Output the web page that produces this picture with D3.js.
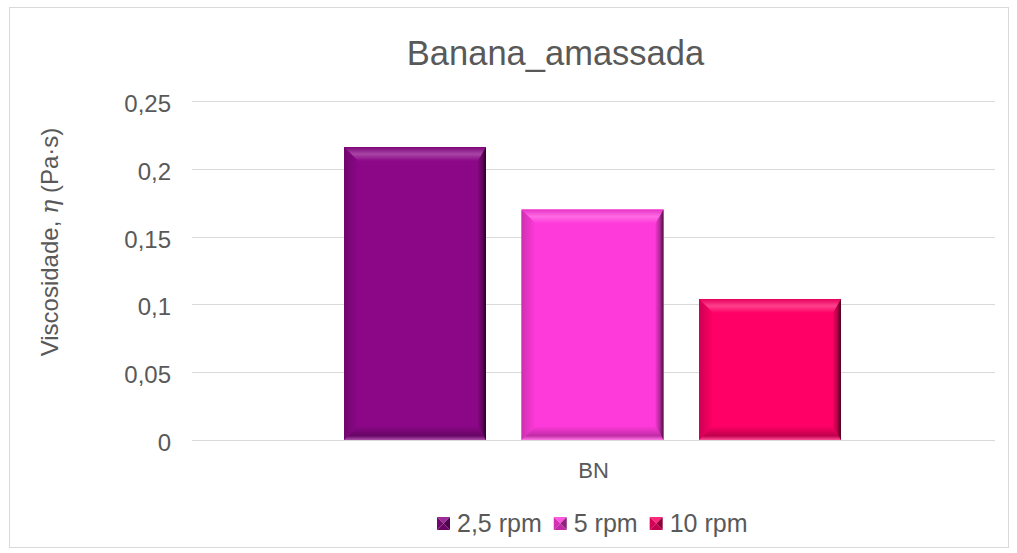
<!DOCTYPE html>
<html><head><meta charset="utf-8">
<script src="https://cdn.jsdelivr.net/npm/d3@7"></script>
<style>body{margin:0;background:#fff}svg{display:block}text{font-family:"Liberation Sans",Arial,sans-serif}</style>
</head><body><svg id="c" width="1017" height="553"></svg>
<script>
const categories = ["BN"];
const seriesNames = ["2,5 rpm", "5 rpm", "10 rpm"];
const seriesValues = [0.216, 0.170, 0.104];
const yTicks = [0, 0.05, 0.1, 0.15, 0.2, 0.25];
const yTickLabels = ["0", "0,05", "0,1", "0,15", "0,2", "0,25"];
const colors = ["#8B0787", "#FF3ADB", "#FF0066"];

(function () {
const svg = d3.select("#c");
svg.append("rect").attr("x", 9.5).attr("y", 7.5).attr("width", 999).attr("height", 540)
  .attr("fill", "#fff").attr("stroke", "#d9d9d9");

const pLeft = 192, pRight = 995, pTop = 101, pBottom = 440;
const y = d3.scaleLinear().domain([0, 0.25]).range([pBottom, pTop]);
const x0 = d3.scaleBand().domain(categories).range([pLeft, pRight]);
const x1 = d3.scaleBand().domain(seriesNames).range([x0("BN") + 152, x0("BN") + x0.bandwidth() - 154]).paddingInner(0.2);

svg.append("g").selectAll("line").data(yTicks).join("line")
  .attr("x1", pLeft).attr("x2", pRight).attr("y1", d => Math.round(y(d)) + 0.5).attr("y2", d => Math.round(y(d)) + 0.5)
  .attr("stroke", "#d9d9d9").attr("stroke-width", 1);

svg.append("g").selectAll("text").data(yTicks).join("text")
  .attr("x", 171).attr("y", d => y(d) + 11).attr("text-anchor", "end")
  .attr("font-size", 24).attr("fill", "#595959").text((d, i) => yTickLabels[i]);

svg.append("text").attr("x", x0("BN") + x0.bandwidth() / 2).attr("y", 478).attr("text-anchor", "middle")
  .attr("font-size", 22).attr("fill", "#595959").text(categories[0]);

svg.append("text").attr("x", 555.5).attr("y", 65).attr("text-anchor", "middle")
  .attr("font-size", 34.5).attr("fill", "#595959").text("Banana_amassada");

const yt = svg.append("text").attr("transform", "translate(58,242) rotate(-90)").attr("text-anchor", "middle")
  .attr("font-size", 24).attr("fill", "#595959");
yt.append("tspan").text("Viscosidade, ");
yt.append("tspan").attr("font-style", "italic").attr("font-family", "DejaVu Serif, serif").text("η");
yt.append("tspan").text(" (Pa·s)");

const defs = svg.append("defs");
function shade(c, k) { return d3.color(c).darker(k).formatHex(); }
function light(c, k) { return d3.interpolateRgb(c, "#fff")(k); }

seriesNames.forEach((s, i) => {
  const c = colors[i];
  const gr = defs.append("linearGradient").attr("id", "gr" + i).attr("x1", 0).attr("x2", 1).attr("y1", 0).attr("y2", 0);
  gr.append("stop").attr("offset", 0).attr("stop-color", shade(c, 0.2));
  gr.append("stop").attr("offset", 0.5).attr("stop-color", shade(c, 0.9));
  gr.append("stop").attr("offset", 1).attr("stop-color", shade(c, 3.5));
  const gt = defs.append("linearGradient").attr("id", "gt" + i).attr("x1", 0).attr("x2", 0).attr("y1", 0).attr("y2", 1);
  gt.append("stop").attr("offset", 0).attr("stop-color", shade(c, 0.3));
  gt.append("stop").attr("offset", 0.5).attr("stop-color", light(c, 0.25));
  gt.append("stop").attr("offset", 1).attr("stop-color", c);
  const gb = defs.append("linearGradient").attr("id", "gb" + i).attr("x1", 0).attr("x2", 0).attr("y1", 0).attr("y2", 1);
  gb.append("stop").attr("offset", 0).attr("stop-color", c);
  gb.append("stop").attr("offset", 0.7).attr("stop-color", shade(c, 0.8));
  gb.append("stop").attr("offset", 1).attr("stop-color", light(c, 0.3));
  const gl = defs.append("linearGradient").attr("id", "gl" + i).attr("x1", 0).attr("x2", 1).attr("y1", 0).attr("y2", 0);
  gl.append("stop").attr("offset", 0).attr("stop-color", shade(c, 0.6));
  gl.append("stop").attr("offset", 1).attr("stop-color", c);
});

const P = pts => pts.map(p => p.join(",")).join(" ");
const bars = svg.append("g");
seriesNames.forEach((s, i) => {
  const bx = x1(s), bw = x1.bandwidth(), by = y(seriesValues[i]), bh = pBottom - by;
  const b = 14, br = 8;
  const g = bars.append("g");
  g.append("rect").attr("x", bx).attr("y", by).attr("width", bw).attr("height", bh).attr("fill", colors[i]);
  g.append("polygon").attr("points", P([[bx, by], [bx + bw, by], [bx + bw - br, by + b], [bx + b, by + b]])).attr("fill", `url(#gt${i})`);
  g.append("polygon").attr("points", P([[bx, by], [bx + b, by + b], [bx + b, by + bh - b], [bx, by + bh]])).attr("fill", `url(#gl${i})`);
  g.append("polygon").attr("points", P([[bx, by + bh], [bx + b, by + bh - b], [bx + bw - br, by + bh - b], [bx + bw, by + bh]])).attr("fill", `url(#gb${i})`);
  g.append("polygon").attr("points", P([[bx + bw, by], [bx + bw - br, by + b], [bx + bw - br, by + bh - b], [bx + bw, by + bh]])).attr("fill", `url(#gr${i})`);
});

const lg = svg.append("g");
let lx = 437;
seriesNames.forEach((s, i) => {
  const ly = 517, sz = 13, c = colors[i];
  const cx = lx + sz / 2, cy = ly + sz / 2;
  lg.append("polygon").attr("points", P([[lx, ly], [lx + sz, ly], [cx, cy]])).attr("fill", light(c, 0.15));
  lg.append("polygon").attr("points", P([[lx, ly], [cx, cy], [lx, ly + sz]])).attr("fill", shade(c, 0.5));
  lg.append("polygon").attr("points", P([[lx + sz, ly], [lx + sz, ly + sz], [cx, cy]])).attr("fill", shade(c, 1.6));
  lg.append("polygon").attr("points", P([[lx, ly + sz], [cx, cy], [lx + sz, ly + sz]])).attr("fill", shade(c, 0.8));
  const t = lg.append("text").attr("x", lx + 20).attr("y", 532).attr("font-size", 25).attr("fill", "#595959").text(s);
  lx = lx + 20 + t.node().getComputedTextLength() + 12;
});
})();
</script></body></html>
